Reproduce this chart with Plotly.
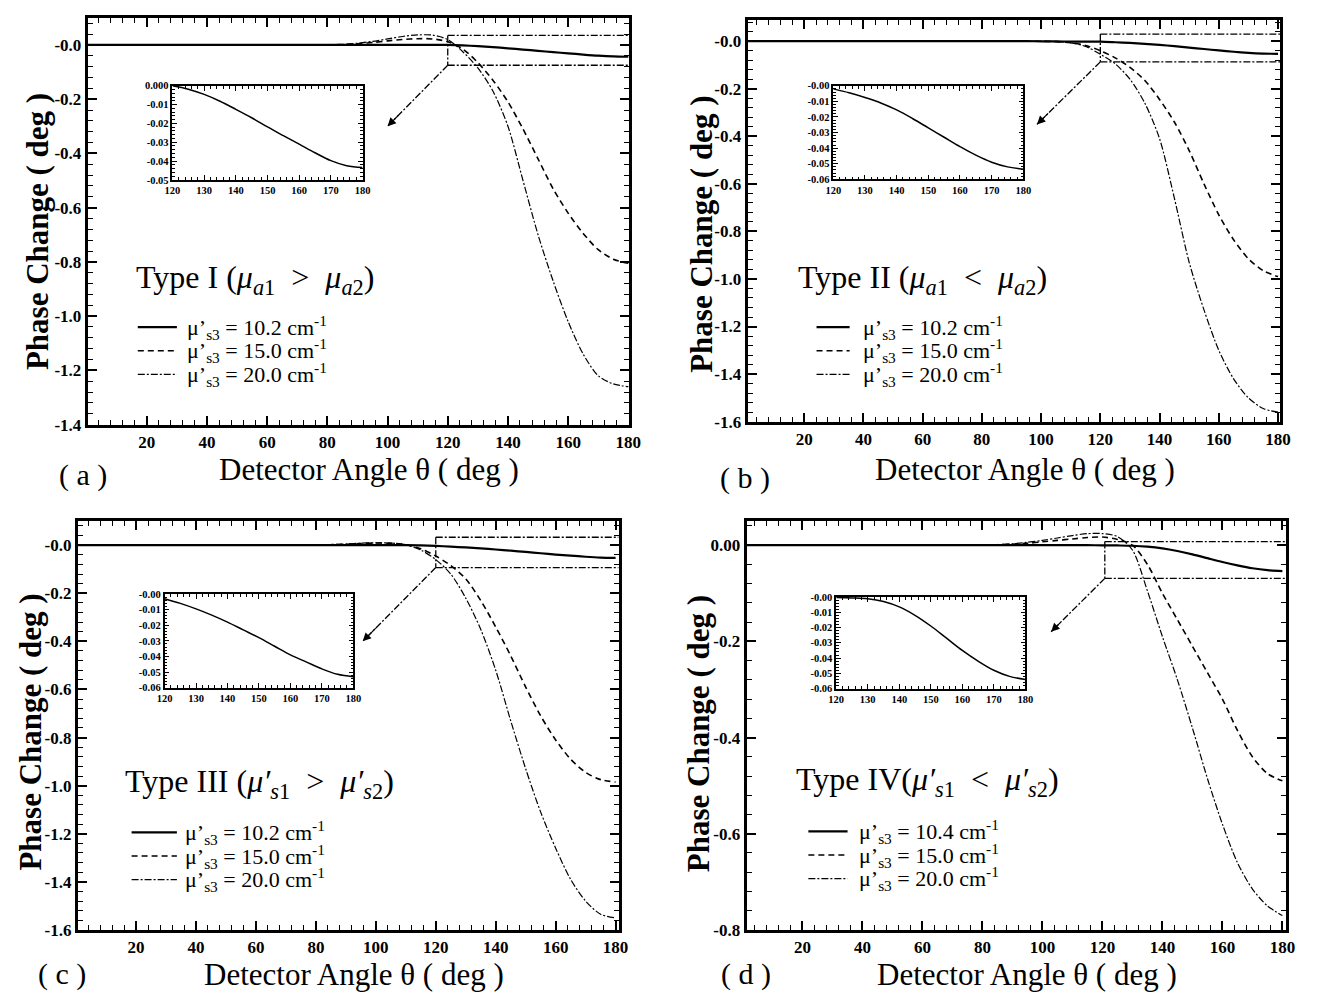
import plotly.graph_objects as go

W, H = 1318, 1000
SERIF = "Liberation Serif"

# ---------------- data ----------------
theta = [0, 5, 10, 15, 20, 25, 30, 35, 40, 45, 50, 55, 60, 65, 70, 75, 80, 85, 90,
         95, 100, 105, 110, 115, 120, 125, 130, 135, 140, 145, 150, 155, 160, 165,
         170, 175, 180]

# Panel (a) Type I
a_solid = [0.0] * 24 + [0.0, -0.0018, -0.0046, -0.0082, -0.0125, -0.0170, -0.0219,
                        -0.0265, -0.0310, -0.0356, -0.0398, -0.0425, -0.0435]
a_dash = [0.0] * 17 + [0.001, 0.004, 0.009, 0.015, 0.020, 0.023, 0.022, 0.012, -0.015,
                       -0.065, -0.13, -0.21, -0.31, -0.42, -0.53, -0.62, -0.695, -0.755,
                       -0.79, -0.805]
a_dashdot = [0.0] * 17 + [0.002, 0.006, 0.013, 0.022, 0.031, 0.037, 0.036, 0.020, -0.025,
                          -0.085, -0.17, -0.30, -0.50, -0.70, -0.87, -1.02, -1.14, -1.22,
                          -1.25, -1.26]

# Panel (b) Type II
b_solid = [0.0] * 20 + [-0.0005, -0.001, -0.0015, -0.002, -0.002, -0.0045, -0.0075, -0.011,
                        -0.0155, -0.021, -0.027, -0.033, -0.039, -0.0445, -0.049, -0.052,
                        -0.0535]
b_dash = [0.0] * 20 + [-0.0005, -0.002, -0.006, -0.018, -0.04, -0.07, -0.11, -0.165, -0.245,
                       -0.34, -0.46, -0.60, -0.73, -0.835, -0.915, -0.965, -0.99]
b_dashdot = [0.0] * 20 + [-0.0005, -0.002, -0.007, -0.022, -0.055, -0.095, -0.16, -0.26,
                          -0.41, -0.66, -0.93, -1.13, -1.30, -1.42, -1.50, -1.545, -1.56]

# Panel (c) Type III
c_solid = [0.0] * 23 + [-0.0008, -0.003, -0.006, -0.0095, -0.0135, -0.018, -0.023, -0.028,
                        -0.0335, -0.039, -0.0435, -0.048, -0.0515, -0.053]
c_dash = [0.0] * 16 + [0.001, 0.002, 0.004, 0.007, 0.009, 0.008, 0.002, -0.015, -0.045,
                       -0.085, -0.14, -0.23, -0.34, -0.46, -0.59, -0.71, -0.81, -0.89,
                       -0.945, -0.975, -0.985]
c_dashdot = [0.0] * 16 + [0.001, 0.003, 0.005, 0.008, 0.010, 0.009, 0.002, -0.02, -0.06,
                          -0.12, -0.22, -0.35, -0.52, -0.73, -0.93, -1.11, -1.26, -1.39,
                          -1.48, -1.535, -1.55]

# Panel (d) Type IV
d_solid = [0.0] * 24 + [-0.0003, -0.0006, -0.0012, -0.003, -0.0065, -0.012, -0.019, -0.027,
                        -0.035, -0.042, -0.048, -0.052, -0.054]
d_dash = [0.0] * 17 + [0.001, 0.002, 0.004, 0.007, 0.010, 0.013, 0.016, 0.017, 0.012, 0.0,
                       -0.04, -0.10, -0.155, -0.21, -0.265, -0.32, -0.385, -0.44, -0.475,
                       -0.49]
d_dashdot = [0.0] * 17 + [0.001, 0.003, 0.006, 0.010, 0.015, 0.020, 0.024, 0.024, 0.018,
                          -0.01, -0.095, -0.19, -0.28, -0.38, -0.485, -0.58, -0.66, -0.715,
                          -0.75, -0.77]

# tick labels
main_xticks = [20, 40, 60, 80, 100, 120, 140, 160, 180]
inset_xticks = [120, 130, 140, 150, 160, 170, 180]
ab_yticks = [0, -0.2, -0.4, -0.6, -0.8, -1.0, -1.2, -1.4]
ab_ylabels = ["-0.0", "-0.2", "-0.4", "-0.6", "-0.8", "-1.0", "-1.2", "-1.4"]
bc_yticks = [0, -0.2, -0.4, -0.6, -0.8, -1.0, -1.2, -1.4, -1.6]
bc_ylabels = ["-0.0", "-0.2", "-0.4", "-0.6", "-0.8", "-1.0", "-1.2", "-1.4", "-1.6"]
d_yticks = [0, -0.2, -0.4, -0.6, -0.8]
d_ylabels = ["0.00", "-0.2", "-0.4", "-0.6", "-0.8"]
ia_yticks = [0, -0.01, -0.02, -0.03, -0.04, -0.05]
ia_ylabels = ["0.000", "-0.01", "-0.02", "-0.03", "-0.04", "-0.05"]
ib_yticks = [0, -0.01, -0.02, -0.03, -0.04, -0.05, -0.06]
ib_ylabels = ["-0.00", "-0.01", "-0.02", "-0.03", "-0.04", "-0.05", "-0.06"]

SP = "&nbsp;"
type_labels = [
    f"Type I (<i>μ</i><sub><i>a</i>1</sub>{SP}{SP}&gt;{SP}{SP}<i>μ</i><sub><i>a</i>2</sub>)",
    f"Type II (<i>μ</i><sub><i>a</i>1</sub>{SP}{SP}&lt;{SP}{SP}<i>μ</i><sub><i>a</i>2</sub>)",
    f"Type III (<i>μ′</i><sub><i>s</i>1</sub>{SP}{SP}&gt;{SP}{SP}<i>μ′</i><sub><i>s</i>2</sub>)",
    f"Type IV(<i>μ′</i><sub><i>s</i>1</sub>{SP}{SP}&lt;{SP}{SP}<i>μ′</i><sub><i>s</i>2</sub>)",
]
legend_values = [["10.2", "15.0", "20.0"], ["10.2", "15.0", "20.0"],
                 ["10.2", "15.0", "20.0"], ["10.4", "15.0", "20.0"]]
panel_letters = ["a", "b", "c", "d"]

# ---------------- layout geometry (pixels) ----------------
def dx(a, b):
    return [a / W, b / W]


def dy(top, bottom):
    return [1 - bottom / H, 1 - top / H]


def px(x):
    return x / W


def py(y):
    return 1 - y / H


panels = [
    dict(series=(a_solid, a_dash, a_dashdot), box=(81, 630.5, 13, 426), xr=[0.4, 180.2],
         yr=[-1.4, 0.1], yt=(ab_yticks, ab_ylabels),
         ibox=(167, 360, 82, 177.5), iyr=[-0.05, 0], iyt=(ia_yticks, ia_ylabels),
         zoom=(120, 0.035, -0.075), tip=(100, -0.30),
         ytitle=(30, 230), xtitle=(367, 472), letter=(76, 477), typ=(128, 279),
         leg=(131.8, 171.5, 180, [327, 351, 375])),
    dict(series=(b_solid, b_dash, b_dashdot), box=(751, 1292, 15, 423), xr=[0.9, 180.8],
         yr=[-1.6, 0.09], yt=(bc_yticks, bc_ylabels),
         ibox=(838, 1031, 82, 177), iyr=[-0.06, 0], iyt=(ib_yticks, ib_ylabels),
         zoom=(120, 0.03, -0.087), tip=(98.6, -0.35),
         ytitle=(704, 233), xtitle=(1033, 472), letter=(748, 480), typ=(800, 279),
         leg=(821, 854.6, 866, [327, 351, 375])),
    dict(series=(c_solid, c_dash, c_dashdot), box=(71, 620, 524, 939), xr=[0.6, 181],
         yr=[-1.6, 0.1], yt=(bc_yticks, bc_ylabels),
         ibox=(159, 350.6, 598, 693), iyr=[-0.06, 0], iyt=(ib_yticks, ib_ylabels),
         zoom=(120, 0.033, -0.093), tip=(95.6, -0.40),
         ytitle=(23, 738), xtitle=(351, 984), letter=(55, 984), typ=(117, 790),
         leg=(125.5, 171.5, 178, [840, 864, 888])),
    dict(series=(d_solid, d_dash, d_dashdot), box=(750, 1298, 524, 939), xr=[1.4, 181.3],
         yr=[-0.8, 0.05], yt=(d_yticks, d_ylabels),
         ibox=(841, 1033, 601, 694), iyr=[-0.06, 0], iyt=(ib_yticks, ib_ylabels),
         zoom=(120.8, 0.0076, -0.069), tip=(102.9, -0.18),
         ytitle=(702, 740), xtitle=(1035, 984), letter=(749, 984), typ=(798, 788),
         leg=(812.7, 852.5, 862, [839, 863, 887])),
]

styles = [
    dict(width=2.2, dash="solid"),
    dict(width=1.6, dash="6px,4px"),
    dict(width=1.2, dash="7px,2px,2px,2px"),
]

fig = go.Figure()
layout = dict(width=W, height=H, margin=dict(l=0, r=0, t=0, b=0),
              paper_bgcolor="white", plot_bgcolor="white", showlegend=False)
shapes = []
annotations = []

tick_font = dict(family=SERIF, size=17, color="black", weight="bold")
inset_font = dict(family=SERIF, size=10.5, color="black", weight="bold")


def ax_name(n):
    return ("x" if n == 1 else f"x{n}"), ("y" if n == 1 else f"y{n}")


for i, p in enumerate(panels):
    m = i + 1
    n = i + 5
    mx, my = ax_name(m)
    ix, iy = ax_name(n)
    for ys, st in zip(p["series"], styles):
        fig.add_trace(go.Scatter(x=theta, y=ys, mode="lines", xaxis=mx, yaxis=my,
                                 line=dict(color="black", width=st["width"], dash=st["dash"],
                                           shape="spline", smoothing=0.8),
                                 hoverinfo="skip"))
    # inset uses the solid series from 120 deg on
    sx = [t for t in theta if t >= 120]
    sy = [v for t, v in zip(theta, p["series"][0]) if t >= 120]
    fig.add_trace(go.Scatter(x=sx, y=sy, mode="lines", xaxis=ix, yaxis=iy,
                             line=dict(color="black", width=1.5, shape="spline"),
                             hoverinfo="skip"))

    x0, x1, y0, y1 = p["box"]
    xk = "xaxis" if m == 1 else f"xaxis{m}"
    yk = "yaxis" if m == 1 else f"yaxis{m}"
    layout[xk] = dict(domain=dx(x0, x1), range=p["xr"], anchor=my,
                      tickmode="array", tickvals=main_xticks,
                      ticks="inside", ticklen=9, tickwidth=1.5, tickcolor="black",
                      minor=dict(ticks="inside", ticklen=5, tickwidth=1, dtick=4, tick0=0,
                                 tickcolor="black", showgrid=False),
                      showline=True, linewidth=3, linecolor="black", mirror="allticks",
                      showgrid=False, zeroline=False, tickfont=tick_font)
    layout[yk] = dict(domain=dy(y0, y1), range=p["yr"], anchor=mx,
                      tickmode="array", tickvals=p["yt"][0], ticktext=p["yt"][1],
                      ticks="inside", ticklen=9, tickwidth=1.5, tickcolor="black",
                      minor=dict(ticks="inside", ticklen=5, tickwidth=1, dtick=0.04, tick0=0,
                                 tickcolor="black", showgrid=False),
                      showline=True, linewidth=3, linecolor="black", mirror="allticks",
                      showgrid=False, zeroline=False, tickfont=tick_font)

    ix0, ix1, iy0, iy1 = p["ibox"]
    ixk = f"xaxis{n}"
    iyk = f"yaxis{n}"
    layout[ixk] = dict(domain=dx(ix0, ix1), range=[120, 180], anchor=iy,
                       tickmode="array", tickvals=inset_xticks,
                       ticks="inside", ticklen=5, tickwidth=1, tickcolor="black",
                       minor=dict(ticks="inside", ticklen=3, tickwidth=0.8, dtick=2, tick0=120,
                                  tickcolor="black", showgrid=False),
                       showline=True, linewidth=1.5, linecolor="black", mirror="allticks",
                       showgrid=False, zeroline=False, tickfont=inset_font)
    layout[iyk] = dict(domain=dy(iy0, iy1), range=p["iyr"], anchor=ix,
                       tickmode="array", tickvals=p["iyt"][0], ticktext=p["iyt"][1],
                       ticks="inside", ticklen=5, tickwidth=1, tickcolor="black",
                       minor=dict(ticks="inside", ticklen=3, tickwidth=0.8, dtick=0.002,
                                  tick0=0, tickcolor="black", showgrid=False),
                       showline=True, linewidth=1.5, linecolor="black", mirror="allticks",
                       showgrid=False, zeroline=False, tickfont=inset_font)

    # zoom box (dash-dot) and arrow towards the inset
    zx, ztop, zbot = p["zoom"]
    xend = p["xr"][1]
    zl = dict(color="black", width=1.3, dash="7px,2px,2px,2px")
    shapes.append(dict(type="line", xref=mx, yref=my, x0=zx, y0=ztop, x1=xend, y1=ztop, line=zl))
    shapes.append(dict(type="line", xref=mx, yref=my, x0=zx, y0=zbot, x1=xend, y1=zbot, line=zl))
    shapes.append(dict(type="line", xref=mx, yref=my, x0=zx, y0=ztop, x1=zx, y1=zbot, line=zl))
    tx, ty = p["tip"]
    shapes.append(dict(type="line", xref=mx, yref=my, x0=zx, y0=zbot, x1=tx, y1=ty, line=zl))
    annotations.append(dict(x=tx, y=ty, ax=tx + 0.2 * (zx - tx), ay=ty + 0.2 * (zbot - ty),
                            xref=mx, yref=my, axref=mx, ayref=my, text="", showarrow=True,
                            arrowhead=2, arrowsize=1.4, arrowwidth=1.2, arrowcolor="black"))

    # axis titles and labels
    annotations.append(dict(x=px(p["ytitle"][0]), y=py(p["ytitle"][1]), xref="paper",
                            yref="paper", text="Phase Change ( deg )", textangle=-90,
                            showarrow=False, xanchor="center", yanchor="middle",
                            font=dict(family=SERIF, size=31, color="black", weight="bold")))
    annotations.append(dict(x=px(p["xtitle"][0]), y=py(p["xtitle"][1]), xref="paper",
                            yref="paper", text="Detector Angle θ ( deg )", showarrow=False,
                            xanchor="center", yanchor="middle",
                            font=dict(family=SERIF, size=31, color="black")))
    annotations.append(dict(x=px(p["letter"][0]), y=py(p["letter"][1]), xref="paper",
                            yref="paper", text=f"( {panel_letters[i]} )", showarrow=False,
                            xanchor="center", yanchor="middle",
                            font=dict(family=SERIF, size=30, color="black")))
    annotations.append(dict(x=px(p["typ"][0]), y=py(p["typ"][1]), xref="paper",
                            yref="paper", text=type_labels[i], showarrow=False,
                            xanchor="left", yanchor="middle",
                            font=dict(family=SERIF, size=32, color="black")))

    # legend block
    lx0, lx1, ltx, rows = p["leg"]
    for k, (st, ry) in enumerate(zip(styles, rows)):
        shapes.append(dict(type="line", xref="paper", yref="paper", x0=px(lx0), x1=px(lx1),
                           y0=py(ry), y1=py(ry),
                           line=dict(color="black", width=st["width"], dash=st["dash"])))
        annotations.append(dict(x=px(ltx), y=py(ry), xref="paper", yref="paper",
                                text=f"μ’<sub>s3</sub> = {legend_values[i][k]} cm<sup>-1</sup>",
                                showarrow=False, xanchor="left", yanchor="middle",
                                font=dict(family=SERIF, size=22, color="black")))

layout["shapes"] = shapes
layout["annotations"] = annotations
fig.update_layout(**layout)
fig.write_html("out.html")
